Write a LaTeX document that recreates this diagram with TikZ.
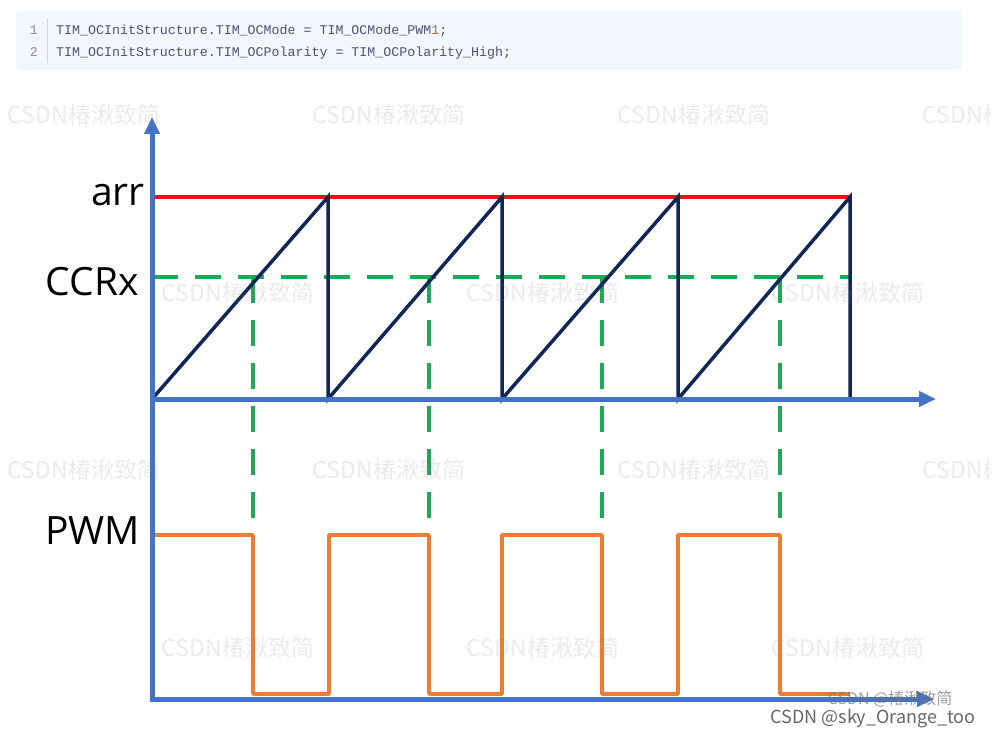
\documentclass[tikz,border=0pt]{standalone}
\usepackage{fontspec}
\setmainfont{Liberation Sans}
\setmonofont{Liberation Mono}
\newfontfamily\cjk{Noto Sans CJK SC}
\newfontfamily\labelfont{Open Sans}
\usepackage{tikz}
\usetikzlibrary{arrows.meta,positioning}
\definecolor{axisBlue}{HTML}{4472C4}
\definecolor{arrRed}{HTML}{F20F0F}
\definecolor{sawNavy}{HTML}{0F2657}
\definecolor{ccrGreen}{HTML}{1FA855}
\definecolor{pwmOrange}{HTML}{ED7D31}
\definecolor{codeBg}{HTML}{F3F6FC}
\definecolor{codeText}{HTML}{4A5570}
\definecolor{codeNum}{HTML}{8C8C99}
\definecolor{codeLit}{HTML}{B0663A}
\definecolor{codeRule}{HTML}{D3D6DD}

\begin{document}
\begin{tikzpicture}[x=1pt,y=-1pt,
 axis/.style={line width=5pt,draw=axisBlue,-{Triangle[width=15pt,length=17pt]}},
 arrline/.style={line width=3.5pt,draw=arrRed},
 saw/.style={line width=3.5pt,draw=sawNavy,line join=miter},
 ccr/.style={line width=3.5pt,draw=ccrGreen,dash pattern=on 26pt off 17pt},
 pwm/.style={line width=3.5pt,draw=pwmOrange,line join=round},
 level/.style={anchor=base east,inner sep=0pt,font=\labelfont\fontsize{39}{39}\selectfont},
 code/.style={anchor=base west,inner sep=0pt,text=codeText,font=\ttfamily\fontsize{13.3}{14}\selectfont},
 lineno/.style={anchor=base east,inner sep=0pt,text=codeNum,font=\ttfamily\fontsize{13.3}{14}\selectfont},
 watermark/.style={inner sep=0pt,text=gray,text opacity=0.16,font=\cjk\fontsize{23}{23}\selectfont}]
\useasboundingbox (0,0) rectangle (992,738);

\fill[codeBg,rounded corners=4pt] (16,11) rectangle (962,70);
\draw[codeRule,line width=1pt] (47,18) -- (47,63);
\node[lineno] (numA) at (38,34.3) {1};
\node[lineno] (numB) at (38,56.7) {2};
\node[code] (codeA) at (56,34.3) {TIM\_OCInitStructure.TIM\_OCMode = TIM\_OCMode\_PWM\textcolor{codeLit}{1};};
\node[code] (codeB) at (56,56.7) {TIM\_OCInitStructure.TIM\_OCPolarity = TIM\_OCPolarity\_High;};

\foreach \x in {253,429,602,780}
  \draw[ccr] (\x,277) -- (\x,697);
\draw[ccr] (152,277) -- (852,277);
\draw[arrline] (152,197) -- (850,197);
\draw[saw] (152,399) -- (328,197) -- (328,399) -- (502,197) -- (502,399)
  -- (678,197) -- (678,399) -- (850,197) -- (850,399);
\draw[pwm] (152,535) -- (253,535) -- (253,694) -- (329,694) -- (329,535)
  -- (429,535) -- (429,694) -- (502,694) -- (502,535) -- (602,535)
  -- (602,694) -- (678,694) -- (678,535) -- (780,535) -- (780,694) -- (850,694);

\draw[axis] (152,699) -- (152,117);
\draw[axis] (150,399) -- (936,399);
\draw[axis] (150,699) -- (934,699);

\node[level] (arrLabel) at (145,205) {arr};
\node[level] (ccrLabel) at (139,295) {CCRx};
\node[level] (pwmLabel) at (140,544) {PWM};

\begin{scope}
\clip (0,0) rectangle (992,738);
\foreach \x/\y [count=\i] in {84/115,389/115,694/115,999/115,238/293,543/293,848/293,
  84/470,389/470,694/470,999/470,238/648,543/648,848/648}
  \node[watermark] (wm\i) at (\x,\y) {CSDN椿湫致简};
\end{scope}
\node[inner sep=0pt,text=black!55,text opacity=0.7,font=\cjk\fontsize{16}{16}\selectfont] (wmUser) at (890,699) {CSDN @椿湫致简};
\node[inner sep=0pt,text=black!60,font=\cjk\fontsize{18}{18}\selectfont] (author) at (873,719) {CSDN @sky\_Orange\_too};
\end{tikzpicture}
\end{document}
